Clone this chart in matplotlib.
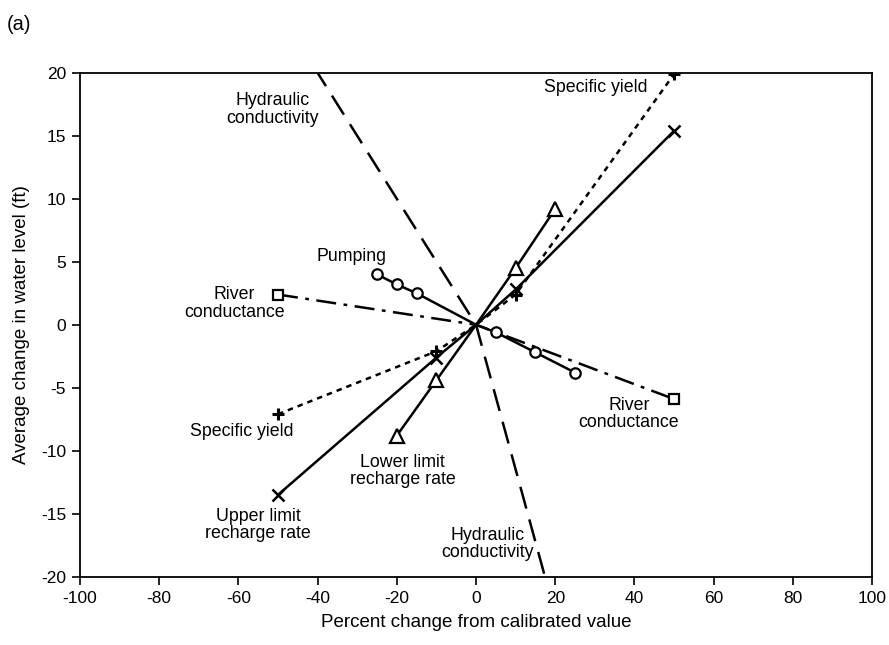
import matplotlib
matplotlib.use("Agg")
import matplotlib.pyplot as plt

plt.rcParams["font.family"] = ["Liberation Sans", "DejaVu Sans"]
plt.rcParams["axes.unicode_minus"] = False

# percent change from calibrated value vs. average change in water level (ft)
pumping_x = [-25, -20, -15, 0, 5, 15, 25]
pumping_y = [4.0, 3.2, 2.5, 0, -0.6, -2.2, -3.8]

river_x = [-50, 0, 50]
river_y = [2.4, 0, -5.9]

lower_recharge_x = [-20, -10, 0, 10, 20]
lower_recharge_y = [-8.8, -4.4, 0, 4.5, 9.2]

upper_recharge_x = [-50, -10, 0, 10, 50]
upper_recharge_y = [-13.5, -2.6, 0, 2.8, 15.4]

spec_yield_x = [-50, -10, 0, 10, 50]
spec_yield_y = [-7.1, -2.1, 0, 2.4, 19.9]

hyd_cond_x = [-50, 0, 50]
hyd_cond_y = [25.0, 0, -57.5]


def no_origin(xs):
    # the base case (0 %) is drawn without a marker
    return [i for i, x in enumerate(xs) if x != 0]


fig = plt.figure(figsize=(8.89, 6.45), dpi=100)
ax = fig.add_axes([0.090, 0.106, 0.891, 0.781])

lw = 1.8
ax.plot(hyd_cond_x, hyd_cond_y, color="black", lw=lw, dashes=(9, 4.5))
ax.plot(spec_yield_x, spec_yield_y, color="black", lw=lw, dashes=(2.2, 2),
        marker="+", ms=9, mew=2.2, markevery=no_origin(spec_yield_x))
ax.plot(upper_recharge_x, upper_recharge_y, color="black", lw=lw,
        marker="x", ms=9, mew=1.8, markevery=no_origin(upper_recharge_x))
ax.plot(lower_recharge_x, lower_recharge_y, color="black", lw=lw,
        marker="^", ms=10, mew=1.6, mfc="white", markevery=no_origin(lower_recharge_x))
ax.plot(river_x, river_y, color="black", lw=lw, dashes=(8, 3, 1.5, 3),
        marker="s", ms=7.5, mew=1.6, mfc="white", markevery=no_origin(river_x))
ax.plot(pumping_x, pumping_y, color="black", lw=lw,
        marker="o", ms=7.5, mew=1.6, mfc="white", markevery=no_origin(pumping_x))

fs = 12.8
labels = [
    ("Hydraulic\nconductivity", -51.5, 17.1),
    ("Specific yield", 30.3, 18.8),
    ("Pumping", -31.4, 5.4),
    ("River\nconductance", -61.1, 1.7),
    ("Specific yield", -59.1, -8.5),
    ("Lower limit\nrecharge rate", -18.6, -11.6),
    ("Upper limit\nrecharge rate", -55, -15.9),
    ("River\nconductance", 38.6, -7.1),
    ("Hydraulic\nconductivity", 2.9, -17.4),
]
for text, x, y in labels:
    ax.text(x, y, text, ha="center", va="center", fontsize=fs, linespacing=1.05)

ax.set_xlim(-100, 100)
ax.set_ylim(-20, 20)
ax.set_xticks(range(-100, 101, 20))
ax.set_yticks(range(-20, 21, 5))
ax.tick_params(direction="out", length=6, width=1.2, labelsize=12.5, pad=4)
for s in ax.spines.values():
    s.set_linewidth(1.3)
ax.set_xlabel("Percent change from calibrated value", fontsize=13.5, labelpad=6)
ax.set_ylabel("Average change in water level (ft)", fontsize=13.5, labelpad=8)

fig.text(0.008, 0.962, "(a)", fontsize=14.5, va="center")

fig.savefig("out.png", dpi=100)
